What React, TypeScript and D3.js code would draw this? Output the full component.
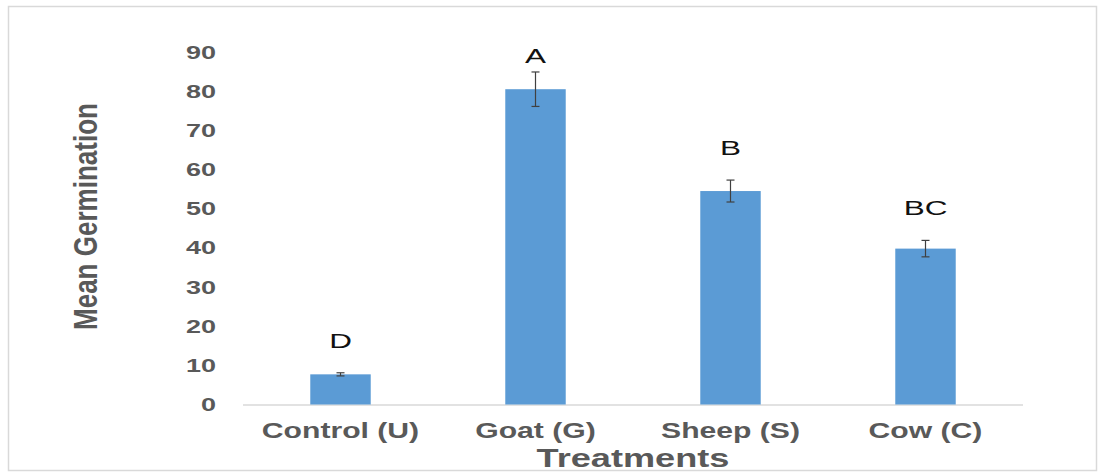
import React from "react";
import * as d3 from "d3";

const categories = ["Control (U)", "Goat (G)", "Sheep (S)", "Cow (C)"];
const means = [7.7, 80.5, 54.5, 39.8];
const errors = [0.4, 4.4, 2.8, 2.1];
const letters = ["D", "A", "B", "BC"];
const yTicks = [0, 10, 20, 30, 40, 50, 60, 70, 80, 90];

const W = 1100;
const H = 474;
const FONT = "Liberation Sans, Arial, sans-serif";

export default function App() {
  const x = d3.scaleBand<string>().domain(categories).range([243, 1023]).paddingInner(0.69).paddingOuter(0.345);
  const y = d3.scaleLinear().domain([0, 90]).range([404.5, 52]);
  const bw = x.bandwidth();
  const gray = "#595959";
  return (
    <svg width={W} height={H} style={{ position: "absolute", left: 0, top: 0 }}>
      <rect x={0} y={0} width={W} height={H} fill="#fff" />
      <rect x={8.5} y={6.5} width={1088} height={464} fill="#fff" stroke="#d9d9d9" strokeWidth={1.5} />
      {yTicks.map((t) => (
        <text
          key={t}
          transform={`translate(216,${y(t) + 6.5}) scale(1.5,1)`}
          textAnchor="end"
          fontFamily={FONT}
          fontWeight="bold"
          fontSize={18}
          fill={gray}
        >
          {t}
        </text>
      ))}
      <line x1={243} x2={1023} y1={y(0) + 0.5} y2={y(0) + 0.5} stroke="#d9d9d9" strokeWidth={1.5} />
      {categories.map((c, i) => {
        const cx = (x(c) as number) + bw / 2;
        const top = y(means[i] + errors[i]);
        const bot = y(means[i] - errors[i]);
        const ly = Math.max(top - 25, 63);
        return (
          <g key={c}>
            <rect x={x(c)} y={y(means[i])} width={bw} height={y(0) - y(means[i])} fill="#5b9bd5" />
            <line x1={cx} x2={cx} y1={top} y2={bot} stroke="#404040" strokeWidth={1.2} />
            <line x1={cx - 4} x2={cx + 4} y1={top} y2={top} stroke="#404040" strokeWidth={1.2} />
            <line x1={cx - 4} x2={cx + 4} y1={bot} y2={bot} stroke="#404040" strokeWidth={1.2} />
            <text
              transform={`translate(${cx},${ly}) scale(1.5,1)`}
              textAnchor="middle"
              fontFamily={FONT}
              fontSize={21}
              fill="#111"
            >
              {letters[i]}
            </text>
            <text
              transform={`translate(${cx},438) scale(1.37,1)`}
              textAnchor="middle"
              fontFamily={FONT}
              fontWeight="bold"
              fontSize={22}
              fill={gray}
            >
              {c}
            </text>
          </g>
        );
      })}
      <text
        transform="translate(633,467) scale(1.39,1)"
        textAnchor="middle"
        fontFamily={FONT}
        fontWeight="bold"
        fontSize={26}
        fill={gray}
      >
        Treatments
      </text>
      <text
        transform="translate(97,216.5) rotate(-90)"
        textAnchor="middle"
        fontFamily={FONT}
        fontWeight="bold"
        fontSize={33}
        fill={gray}
        textLength={227}
        lengthAdjust="spacingAndGlyphs"
      >
        Mean Germination
      </text>
    </svg>
  );
}
